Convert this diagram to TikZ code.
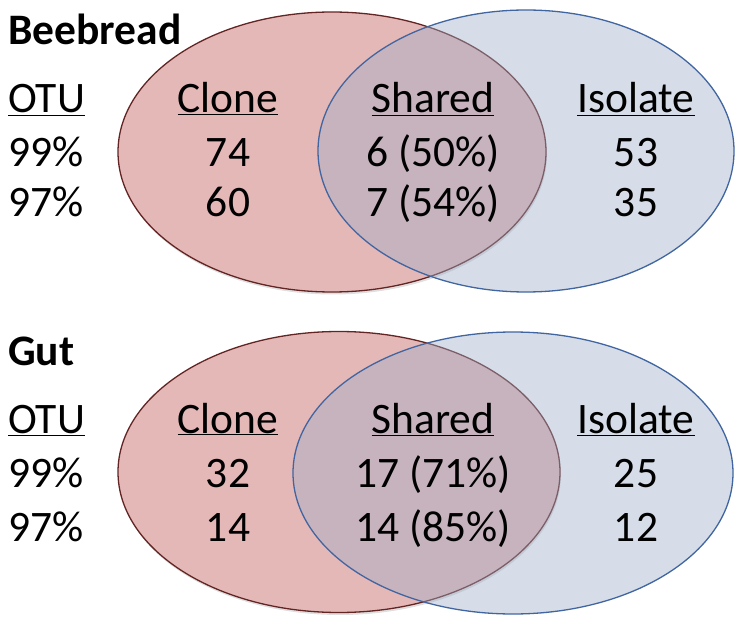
\documentclass[tikz,border=0pt]{standalone}
\usepackage{fontspec}
\setmainfont{Carlito}
\usetikzlibrary{shapes.geometric,shadows}
\definecolor{redfill}{RGB}{229,184,184}
\definecolor{redline}{RGB}{99,37,35}
\definecolor{bluefill}{RGB}{157,174,200}
\definecolor{blueline}{RGB}{65,101,160}
\begin{document}
\begin{tikzpicture}[x=1pt,y=-1pt,
  redset/.style={ellipse,draw=redline,fill=redfill,line width=1.3pt,inner sep=0pt,
    drop shadow={opacity=0.25,shadow xshift=1pt,shadow yshift=-2.5pt}},
  blueset/.style={ellipse,draw=blueline,fill=bluefill,fill opacity=0.42,draw opacity=1,line width=1.3pt,inner sep=0pt},
  txt/.style={inner sep=0pt,anchor=base,font=\fontsize{43.5}{50}\selectfont},
  lefttxt/.style={txt,anchor=base west},
  title/.style={inner sep=0pt,anchor=base west,font=\fontsize{43.5}{50}\selectfont\bfseries}]
\useasboundingbox (0,0) rectangle (747,628);
% top venn
\node[redset,minimum width=428pt,minimum height=280pt] (r1) at (332,152) {};
\node[blueset,minimum width=416pt,minimum height=282pt] (b1) at (526,151) {};
% bottom venn
\node[redset,minimum width=442pt,minimum height=281pt] (r2) at (339,472) {};
\node[blueset,minimum width=440pt,minimum height=282pt] (b2) at (513,473) {};
% top texts
\node[title] (t1) at (8,45) {Beebread};
\node[lefttxt] (o1) at (8,113) {\underline{OTU}};
\node[lefttxt] (p1a) at (8,167) {99\%};
\node[lefttxt] (p1b) at (8,217) {97\%};
\node[txt] (c1) at (228,113) {\underline{Clone}};
\node[txt] (c1a) at (228,167) {74};
\node[txt] (c1b) at (228,217) {60};
\node[txt] (s1) at (433,113) {\underline{Shared}};
\node[txt] (s1a) at (433,167) {6 (50\%)};
\node[txt] (s1b) at (433,217) {7 (54\%)};
\node[txt] (i1) at (636,113) {\underline{Isolate}};
\node[txt] (i1a) at (636,167) {53};
\node[txt] (i1b) at (636,217) {35};
% bottom texts
\node[title] (t2) at (8,365) {Gut};
\node[lefttxt] (o2) at (8,433) {\underline{OTU}};
\node[lefttxt] (p2a) at (8,487) {99\%};
\node[lefttxt] (p2b) at (8,541) {97\%};
\node[txt] (c2) at (228,433) {\underline{Clone}};
\node[txt] (c2a) at (228,487) {32};
\node[txt] (c2b) at (228,541) {14};
\node[txt] (s2) at (433,433) {\underline{Shared}};
\node[txt] (s2a) at (433,487) {17 (71\%)};
\node[txt] (s2b) at (433,541) {14 (85\%)};
\node[txt] (i2) at (636,433) {\underline{Isolate}};
\node[txt] (i2a) at (636,487) {25};
\node[txt] (i2b) at (636,541) {12};
\end{tikzpicture}
\end{document}
